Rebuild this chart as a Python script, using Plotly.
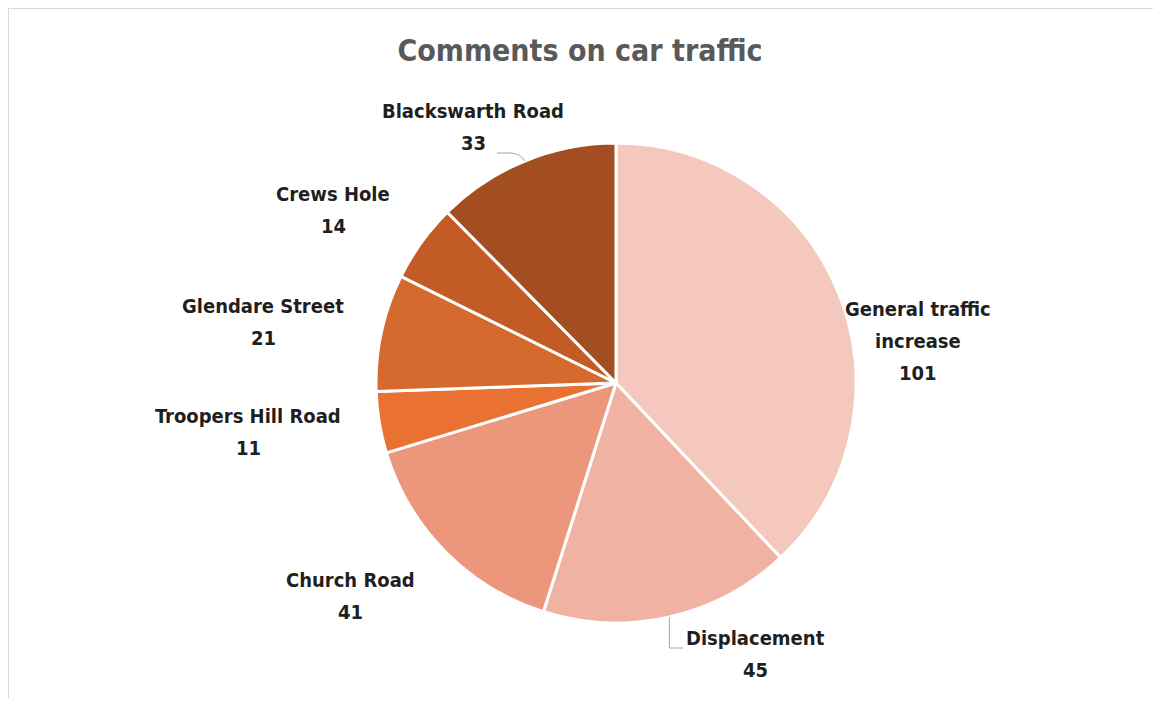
import math
import plotly.graph_objects as go

categories = ["General traffic increase", "Displacement", "Church Road",
              "Troopers Hill Road", "Glendare Street", "Crews Hole", "Blackswarth Road"]
label_lines = [["General traffic", "increase"], ["Displacement"], ["Church Road"],
               ["Troopers Hill Road"], ["Glendare Street"], ["Crews Hole"], ["Blackswarth Road"]]
values = [101, 45, 41, 11, 21, 14, 33]
colors = ["#F4C8BD", "#F0B3A3", "#EC977C", "#E97233", "#D6692E", "#C25B26", "#A34E20"]

# page body has an 8px margin; figure sized so nothing overflows the 1161x706 window
OFF = 8
FW, FH = 1161 - 2 * OFF, 706 - 2 * OFF
CX, CY, R = 616, 383, 240  # pie centre / radius in window pixels

FONT = "DejaVu Sans Condensed, Liberation Sans Narrow, Arial Narrow, sans-serif"
LINE_H = 32

def px(x):
    return (x - OFF) / FW

def py(y):
    return 1 - (y - OFF) / FH

fig = go.Figure(go.Pie(
    labels=categories,
    values=values,
    sort=False,
    direction="clockwise",
    rotation=0,
    marker=dict(colors=colors, line=dict(color="white", width=3)),
    textinfo="none",
    hoverinfo="label+value",
    domain=dict(x=[px(CX - R), px(CX + R)], y=[py(CY + R), py(CY - R)]),
    showlegend=False,
))

# label block centres (window pixels)
label_pos = [(918, 341), (755, 654), (350, 596), (248, 432), (263, 322), (333, 210), (473, 127)]

annotations = []
for lines, v, (lx, ly) in zip(label_lines, values, label_pos):
    all_lines = lines + [str(v)]
    n = len(all_lines)
    for i, t in enumerate(all_lines):
        yy = ly + (i - (n - 1) / 2) * LINE_H
        annotations.append(dict(
            x=px(lx), y=py(yy), xref="paper", yref="paper",
            text=f"<b>{t}</b>", showarrow=False,
            xanchor="center", yanchor="middle", align="center",
            font=dict(family=FONT, size=20, color="#1f1f1f"),
        ))

# slice mid angles (clockwise from top) for leader lines
total = sum(values)
mids = []
acc = 0
for v in values:
    mids.append((acc + v / 2) / total * 2 * math.pi)
    acc += v

def edge(i):
    a = mids[i]
    return CX + R * math.sin(a), CY - R * math.cos(a)

shapes = [
    dict(type="line", xref="paper", yref="paper", x0=px(8), y0=py(8), x1=1, y1=py(8),
         line=dict(color="#D9D9D9", width=2)),
    dict(type="line", xref="paper", yref="paper", x0=px(8), y0=py(8), x1=px(8), y1=0,
         line=dict(color="#D9D9D9", width=2)),
]
# Displacement leader
ex, ey = edge(1)
shapes.append(dict(type="path", xref="paper", yref="paper",
                   path=f"M {px(ex)},{py(ey)} L {px(ex)},{py(648)} L {px(683)},{py(648)}",
                   line=dict(color="#A6A6A6", width=1)))
# Blackswarth leader
ex, ey = edge(6)
shapes.append(dict(type="path", xref="paper", yref="paper",
                   path=f"M {px(497)},{py(153)} L {px(511)},{py(153)} Q {px(521)},{py(154)} {px(ex)},{py(ey)}",
                   line=dict(color="#A6A6A6", width=1)))

fig.update_layout(
    width=FW, height=FH,
    margin=dict(l=0, r=0, t=0, b=0),
    paper_bgcolor="white", plot_bgcolor="white",
    title=dict(text="<b>Comments on car traffic</b>", x=px(580), xanchor="center",
               y=py(50), yanchor="middle",
               font=dict(family=FONT, size=30, color="#595959")),
    annotations=annotations,
    shapes=shapes,
)

fig.write_html("out.html")
